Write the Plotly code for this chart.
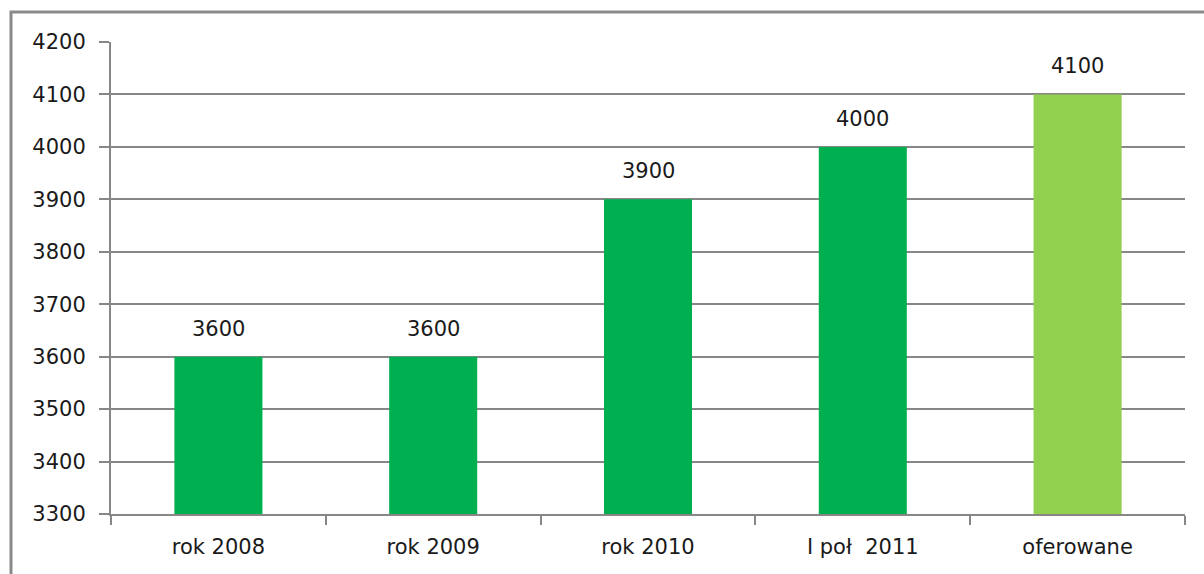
import plotly.graph_objects as go

categories = ["rok 2008", "rok 2009", "rok 2010", "I poł  2011", "oferowane"]
values = [3600, 3600, 3900, 4000, 4100]
bar_colors = ["#00B050", "#00B050", "#00B050", "#00B050", "#92D050"]
y_ticks = [3300, 3400, 3500, 3600, 3700, 3800, 3900, 4000, 4100, 4200]

W, H = 1204, 574
L, R, T, B = 111, 19, 42, 60
pw, ph = W - L - R, H - T - B

font = dict(family="DejaVu Sans, sans-serif", size=21, color="#1a1a1a")
grid = "#878787"

fig = go.Figure(go.Bar(
    x=categories, y=values, marker=dict(color=bar_colors, line=dict(width=0)),
))

for c, v in zip(categories, values):
    fig.add_annotation(x=c, y=v, text=str(v), showarrow=False,
                       yanchor="bottom", yshift=14, font=font)

# outer frame of the chart area
def px(x):
    return (x - L) / pw

def py(y):
    return (H - B - y) / ph

fig.add_shape(type="rect", xref="paper", yref="paper",
              x0=px(11), x1=px(1215), y0=py(12), y1=py(590),
              line=dict(color="#8a8a8a", width=3), layer="below")

fig.update_layout(
    width=W, height=H, margin=dict(l=L, r=R, t=T, b=B),
    paper_bgcolor="white", plot_bgcolor="white",
    bargap=0.59, showlegend=False, font=font,
    xaxis=dict(showline=True, linecolor=grid, linewidth=2,
               ticks="outside", tickson="boundaries", ticklen=9,
               tickcolor=grid, tickwidth=2, showgrid=False,
               tickfont=font, ticklabelstandoff=13),
    yaxis=dict(range=[3300, 4200], tickvals=y_ticks, showline=True,
               linecolor=grid, linewidth=2, ticks="outside", ticklen=10,
               tickcolor=grid, tickwidth=2, showgrid=True, gridcolor=grid,
               gridwidth=2, zeroline=False, tickfont=font,
               ticklabelstandoff=9),
)

fig.write_html("out.html")
